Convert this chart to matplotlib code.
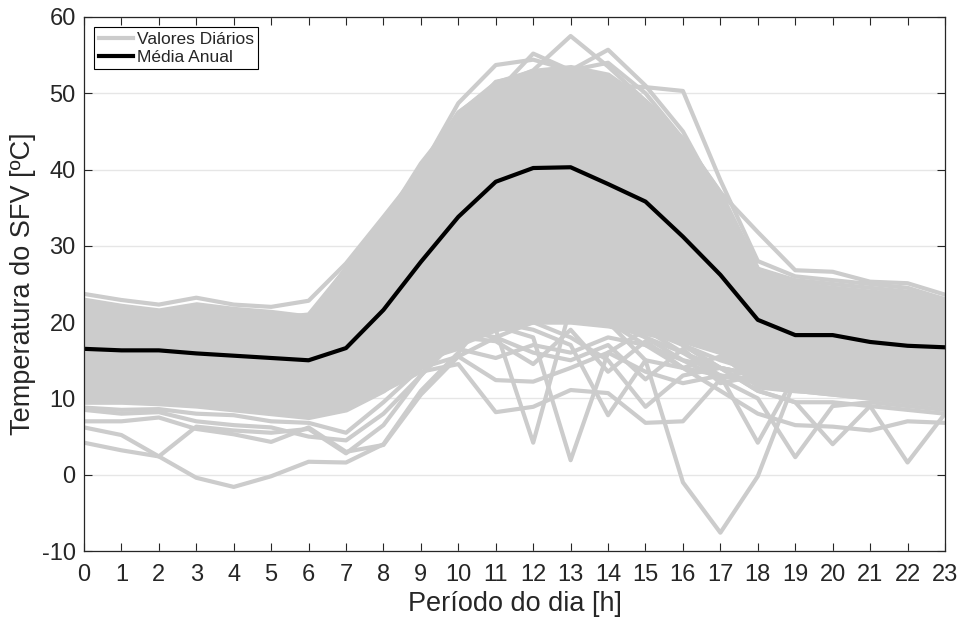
import matplotlib
matplotlib.use("Agg")
import matplotlib.pyplot as plt
import numpy as np

plt.rcParams['font.family'] = ['Liberation Sans', 'DejaVu Sans']
plt.rcParams['axes.unicode_minus'] = False

# horas do dia
horas = list(range(24))

# média anual (linha preta)
media_anual = [16.5, 16.3, 16.3, 15.9, 15.6, 15.3, 15.0, 16.6, 21.6, 27.9, 33.8, 38.4,
               40.2, 40.3, 38.1, 35.8, 31.2, 26.2, 20.3, 18.3, 18.3, 17.4, 16.9, 16.7]

# envoltória da massa densa de valores diários
faixa_sup = [23.0, 22.2, 21.6, 22.4, 21.8, 21.4, 20.8, 27.2, 33.2, 40.0, 47.5, 51.5,
             53.0, 53.5, 52.5, 49.0, 44.0, 37.0, 27.0, 25.2, 24.5, 24.0, 23.8, 23.0]
faixa_inf = [9.5, 9.5, 9.3, 9.0, 8.5, 8.0, 7.5, 8.5, 11.0, 14.5, 17.0, 19.0,
             20.0, 20.0, 19.5, 18.5, 17.5, 16.0, 11.5, 11.0, 11.0, 11.0, 10.0, 9.0]

# dias individuais mais afastados da massa
dia_frio = [4.2, 3.2, 2.4, -0.4, -1.6, -0.2, 1.7, 1.6, 4.0, 11.0, 16.0, 22.0,
            28.0, 31.0, 32.0, 30.0, 26.0, 21.0, 15.0, 13.0, 12.5, 12.0, 11.5, 11.0]
dia_madrugada_1 = [6.2, 5.2, 2.4, 6.3, 5.8, 5.5, 6.0, 2.8, 6.5, 13.0, 19.0, 25.0,
                   30.0, 33.0, 33.5, 31.0, 27.0, 22.0, 16.0, 14.0, 13.0, 12.5, 12.0, 11.0]
dia_madrugada_2 = [7.0, 7.0, 7.5, 6.0, 5.3, 4.3, 6.2, 3.0, 3.9, 10.5, 15.5, 18.0,
                   20.0, 22.0, 21.0, 20.0, 18.0, 16.0, 14.0, 12.5, 12.0, 11.5, 11.0, 10.0]
dia_madrugada_3 = [8.5, 8.0, 8.2, 7.0, 6.5, 6.2, 5.0, 4.5, 8.0, 13.0, 18.0, 23.0,
                   26.0, 27.0, 26.0, 24.0, 21.0, 18.0, 14.0, 12.0, 11.5, 11.0, 10.5, 10.0]
dia_madrugada_4 = [8.8, 8.5, 8.6, 8.0, 7.8, 7.0, 6.8, 5.5, 9.5, 14.0, 18.5, 20.5,
                   22.0, 23.0, 22.5, 21.0, 19.0, 17.0, 13.0, 11.5, 11.0, 10.5, 10.0, 9.5]
dia_queda_17h = [12.0, 11.5, 11.0, 10.5, 10.0, 9.5, 9.0, 10.0, 13.0, 17.0, 20.0, 22.0,
                 24.0, 23.0, 20.0, 15.0, -1.0, -7.6, -0.2, 12.5, 12.0, 11.0, 10.5, 10.0]
dia_nublado_1 = [11.0, 10.5, 10.0, 9.5, 9.0, 8.5, 8.0, 9.0, 11.0, 13.5, 14.5, 8.2,
                 8.9, 11.1, 10.7, 6.8, 7.0, 12.5, 14.0, 11.0, 10.5, 10.0, 9.5, 9.0]
dia_nublado_2 = [12.0, 11.5, 11.0, 10.5, 10.0, 9.8, 9.5, 10.0, 12.5, 14.0, 15.5, 12.4,
                 12.2, 14.0, 16.0, 13.5, 12.0, 13.0, 12.0, 11.0, 10.5, 10.0, 9.5, 9.0]
dia_nublado_3 = [13.0, 12.5, 12.0, 11.5, 11.0, 10.5, 10.0, 11.0, 13.0, 15.0, 16.5, 15.3,
                 17.0, 16.0, 18.0, 17.0, 15.0, 14.0, 13.0, 12.0, 11.5, 11.0, 10.5, 10.0]
dia_nublado_4 = [12.5, 12.0, 11.5, 11.0, 10.5, 10.0, 9.5, 10.5, 13.0, 16.0, 18.0, 17.5,
                 14.5, 19.0, 13.5, 17.5, 14.0, 15.5, 12.5, 11.5, 11.0, 10.5, 10.0, 9.5]
dia_nublado_5 = [13.5, 13.0, 12.5, 12.0, 11.5, 11.0, 10.5, 11.5, 14.0, 16.5, 19.0, 18.0,
                 16.0, 15.0, 17.0, 12.5, 16.5, 12.0, 13.0, 12.0, 11.5, 11.0, 10.5, 10.0]
dia_pico_12h = [14.0, 13.5, 13.0, 12.5, 12.0, 11.5, 11.0, 12.0, 15.0, 18.0, 19.5, 19.0,
                4.2, 22.0, 20.0, 18.0, 16.0, 14.0, 13.0, 12.0, 11.5, 11.0, 10.5, 10.0]
dia_pico_13h = [14.5, 14.0, 13.5, 13.0, 12.5, 12.0, 11.5, 12.5, 15.5, 18.5, 20.0, 19.5,
                18.0, 1.9, 16.0, 19.0, 17.0, 15.0, 13.5, 12.5, 12.0, 11.5, 11.0, 10.5]
dia_pico_14h = [13.5, 13.0, 12.5, 12.0, 11.5, 11.0, 10.5, 11.5, 14.5, 17.5, 19.0, 20.0,
                19.0, 17.0, 7.8, 15.0, 14.0, 13.0, 12.5, 12.0, 11.5, 11.0, 10.5, 10.0]
dia_pico_15h = [14.0, 13.5, 13.0, 12.5, 12.0, 11.5, 11.0, 12.0, 15.0, 18.0, 20.0, 21.0,
                20.0, 18.0, 15.0, 8.9, 13.0, 14.0, 13.0, 12.5, 12.0, 11.5, 11.0, 10.5]
dia_pico_18h = [13.0, 12.5, 12.0, 11.5, 11.0, 10.5, 10.0, 11.0, 14.0, 18.0, 22.0, 24.0,
                25.0, 24.0, 22.0, 19.0, 16.0, 13.0, 4.2, 13.0, 12.0, 11.0, 10.5, 10.0]
dia_pico_19h = [12.5, 12.0, 11.5, 11.0, 10.5, 10.0, 9.5, 10.5, 13.5, 17.0, 21.0, 23.0,
                24.0, 23.0, 21.0, 18.0, 15.0, 12.5, 10.0, 2.3, 9.0, 9.5, 9.0, 8.5]
dia_pico_20h = [12.0, 11.5, 11.0, 10.5, 10.0, 9.5, 9.0, 10.0, 13.0, 17.0, 21.0, 24.0,
                26.0, 25.0, 23.0, 20.0, 17.0, 14.0, 11.0, 9.5, 4.0, 9.0, 8.5, 8.0]
dia_pico_22h = [12.0, 11.5, 11.0, 10.5, 10.0, 9.5, 9.0, 10.0, 13.0, 17.0, 21.0, 24.0,
                26.0, 25.0, 23.0, 20.0, 17.0, 14.0, 11.0, 9.5, 9.5, 9.0, 1.6, 8.0]
dia_noite_fria = [11.5, 11.0, 10.5, 10.0, 9.5, 9.0, 8.5, 9.5, 12.5, 16.0, 20.0, 22.0,
                  23.0, 22.0, 20.0, 17.0, 14.0, 11.0, 8.0, 6.5, 6.3, 5.8, 7.0, 6.8]
dia_quente_1 = [20.0, 19.5, 19.0, 19.0, 18.5, 18.0, 18.0, 24.0, 31.0, 39.0, 46.0, 51.5,
                52.5, 52.5, 51.0, 50.8, 50.3, 38.6, 28.0, 26.0, 25.5, 25.0, 24.5, 23.0]
dia_quente_2 = [21.0, 20.5, 20.0, 20.0, 19.5, 19.0, 19.5, 25.0, 32.0, 40.0, 48.7, 53.7,
                54.4, 53.0, 55.7, 51.0, 45.0, 36.0, 27.0, 25.5, 25.0, 24.5, 24.0, 23.0]
dia_quente_3 = [19.0, 18.5, 18.0, 18.0, 17.5, 17.0, 17.5, 23.0, 30.0, 38.0, 46.0, 50.0,
                55.2, 53.0, 54.0, 50.0, 44.0, 37.0, 31.8, 26.8, 26.6, 25.3, 25.1, 23.6]
dia_quente_4 = [22.0, 21.5, 21.0, 21.5, 21.0, 20.5, 21.0, 27.0, 33.0, 40.8, 47.0, 51.0,
                53.0, 57.5, 53.5, 49.0, 44.0, 36.5, 26.5, 25.0, 24.5, 24.0, 23.5, 23.0]
dia_quente_5 = [23.7, 22.9, 22.3, 23.2, 22.3, 22.0, 22.8, 27.7, 33.8, 40.0, 47.5, 51.0,
                52.0, 52.0, 50.0, 47.0, 42.0, 35.0, 26.0, 24.5, 24.0, 23.5, 23.0, 22.5]

dias = [dia_frio, dia_madrugada_1, dia_madrugada_2, dia_madrugada_3, dia_madrugada_4,
        dia_queda_17h, dia_nublado_1, dia_nublado_2, dia_nublado_3, dia_nublado_4,
        dia_nublado_5, dia_pico_12h, dia_pico_13h, dia_pico_14h, dia_pico_15h,
        dia_pico_18h, dia_pico_19h, dia_pico_20h, dia_pico_22h, dia_noite_fria,
        dia_quente_1, dia_quente_2, dia_quente_3, dia_quente_4, dia_quente_5]

cinza = '#cccccc'
escuro = '#262626'

fig = plt.figure(figsize=(9.62, 6.21), dpi=100)
ax = fig.add_axes([0.0873, 0.1127, 0.895, 0.86])

ax.fill_between(horas, faixa_inf, faixa_sup, color=cinza, lw=3, zorder=2)
for i, d in enumerate(dias):
    ax.plot(horas, d, color=cinza, lw=3, zorder=2,
            label='Valores Diários' if i == 0 else None)
ax.plot(horas, media_anual, color='black', lw=3, zorder=3, label='Média Anual')

ax.set_xlim(0, 23)
ax.set_ylim(-10, 60)
ax.set_xticks(horas)
ax.set_yticks(np.arange(-10, 61, 10))
ax.yaxis.grid(True, color='#e6e6e6', lw=1, zorder=0)
ax.set_axisbelow(True)

ax.tick_params(direction='in', length=6, width=0.8, colors=escuro,
               labelsize=17, top=True, right=True, pad=6)
ax.tick_params(axis='x', pad=9)
for s in ax.spines.values():
    s.set_color(escuro)
    s.set_linewidth(0.9)
    s.set_zorder(4)

ax.set_xlabel('Período do dia [h]', fontsize=19.5, color=escuro, labelpad=4)
ax.set_ylabel('Temperatura do SFV [ºC]', fontsize=19.5, color=escuro, labelpad=4)

leg = ax.legend(loc='upper left', fontsize=12.5, frameon=True, fancybox=False,
                framealpha=1, edgecolor='black', borderpad=0.25, handlelength=1.95,
                handletextpad=0.25, labelspacing=0.15, borderaxespad=0.6)
leg.get_frame().set_linewidth(0.8)
for t in leg.get_texts():
    t.set_color(escuro)

fig.savefig('out.png', dpi=100)
